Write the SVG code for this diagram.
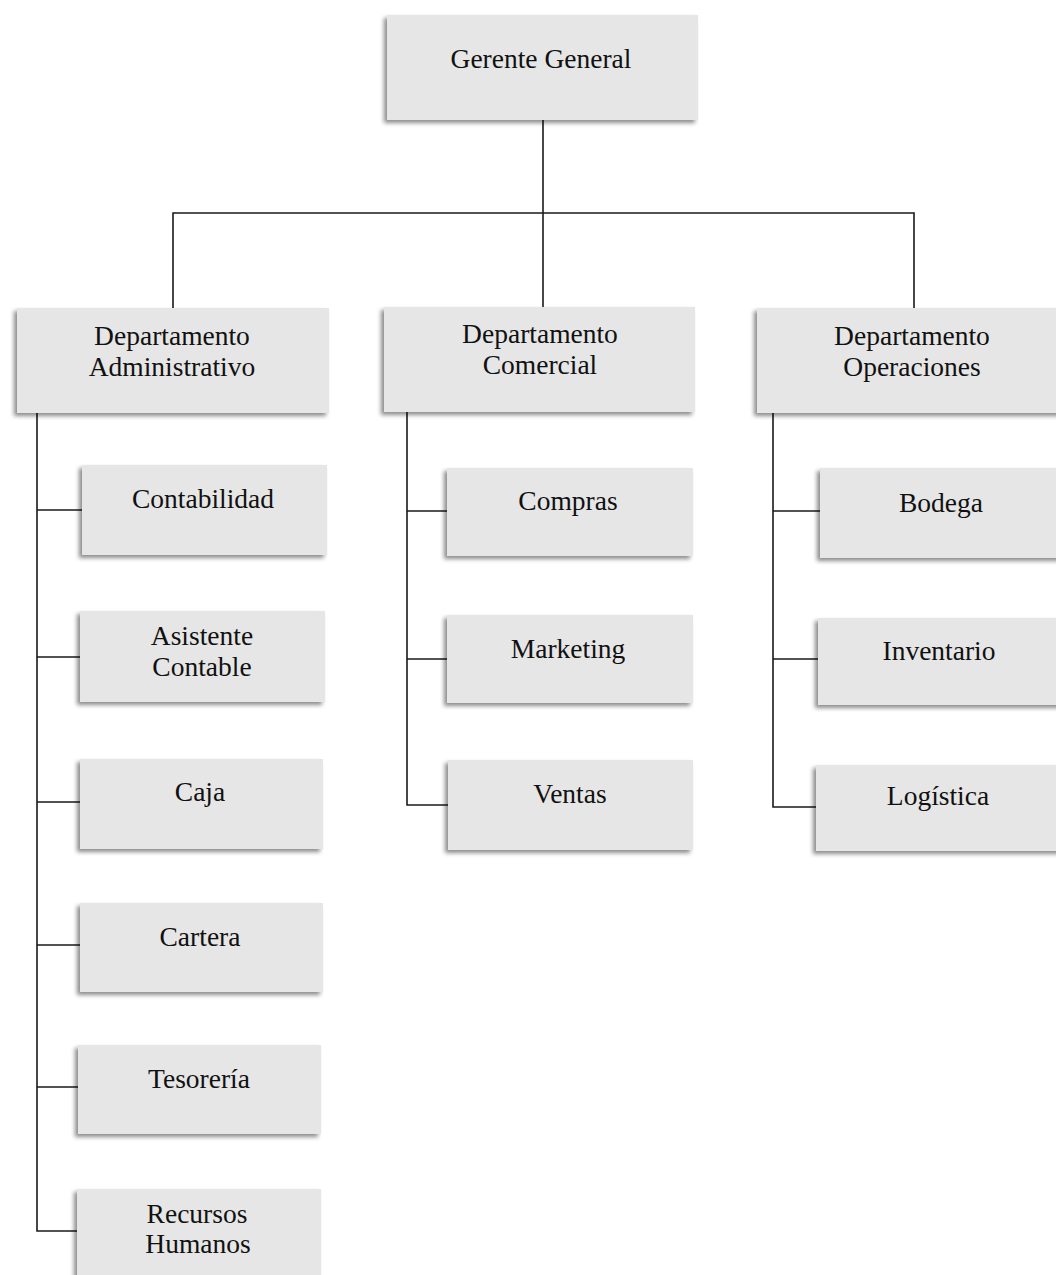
<svg xmlns="http://www.w3.org/2000/svg" width="1056" height="1275" viewBox="0 0 1056 1275">
<defs>
<filter id="sh" x="-10%" y="-10%" width="120%" height="130%">
<feDropShadow dx="-3" dy="3" stdDeviation="2" flood-color="#000" flood-opacity="0.45"/>
</filter>
</defs>
<style>
.box{fill:#e6e6e6;filter:url(#sh);}
.t{font-family:"Liberation Serif","Times New Roman",serif;font-size:27.5px;fill:#111;text-anchor:middle;}
.ln{stroke:#1a1a1a;stroke-width:1.6;fill:none;}
</style>
<rect width="1056" height="1275" fill="#fff"/>
<g id="connectors">
<path class="ln" d="M543 120 V308"/>
<path class="ln" d="M173 308 V213 H914 V308"/>
<path class="ln" d="M37 413 V1231 H77"/>
<path class="ln" d="M37 510 H82 M37 657 H80 M37 802 H80 M37 945 H80 M37 1087 H78"/>
<path class="ln" d="M407 412 V805 H448"/>
<path class="ln" d="M407 511 H447 M407 659 H447"/>
<path class="ln" d="M773 413 V807 H816"/>
<path class="ln" d="M773 511 H820 M773 659 H818"/>
</g>
<g id="gerente"><rect class="box" x="387" y="15" width="311" height="105"/><text class="t" x="541" y="68">Gerente General</text></g>
<g id="dep-admin"><rect class="box" x="17" y="308" width="312" height="105"/><text class="t" x="172" y="345">Departamento</text><text class="t" x="172" y="376">Administrativo</text></g>
<g id="dep-comercial"><rect class="box" x="384" y="307" width="311" height="105"/><text class="t" x="540" y="343">Departamento</text><text class="t" x="540" y="374">Comercial</text></g>
<g id="dep-operaciones"><rect class="box" x="757" y="308" width="312" height="105"/><text class="t" x="912" y="345">Departamento</text><text class="t" x="912" y="376">Operaciones</text></g>
<g id="contabilidad"><rect class="box" x="82" y="465" width="245" height="90"/><text class="t" x="203" y="508">Contabilidad</text></g>
<g id="asistente"><rect class="box" x="80" y="611" width="245" height="91"/><text class="t" x="202" y="645">Asistente</text><text class="t" x="202" y="676">Contable</text></g>
<g id="caja"><rect class="box" x="80" y="759" width="243" height="90"/><text class="t" x="200" y="801">Caja</text></g>
<g id="cartera"><rect class="box" x="80" y="903" width="243" height="89"/><text class="t" x="200" y="946">Cartera</text></g>
<g id="tesoreria"><rect class="box" x="78" y="1045" width="243" height="89"/><text class="t" x="199" y="1088">Tesorería</text></g>
<g id="rrhh"><rect class="box" x="77" y="1189" width="244" height="95"/><text class="t" x="197" y="1223">Recursos</text><text class="t" x="198" y="1253">Humanos</text></g>
<g id="compras"><rect class="box" x="447" y="468" width="246" height="88"/><text class="t" x="568" y="510">Compras</text></g>
<g id="marketing"><rect class="box" x="447" y="615" width="246" height="88"/><text class="t" x="568" y="658">Marketing</text></g>
<g id="ventas"><rect class="box" x="448" y="760" width="245" height="90"/><text class="t" x="570" y="803">Ventas</text></g>
<g id="bodega"><rect class="box" x="820" y="468" width="250" height="90"/><text class="t" x="941" y="512">Bodega</text></g>
<g id="inventario"><rect class="box" x="818" y="618" width="252" height="87"/><text class="t" x="939" y="660">Inventario</text></g>
<g id="logistica"><rect class="box" x="816" y="765" width="254" height="86"/><text class="t" x="938" y="805">Logística</text></g>
</svg>
